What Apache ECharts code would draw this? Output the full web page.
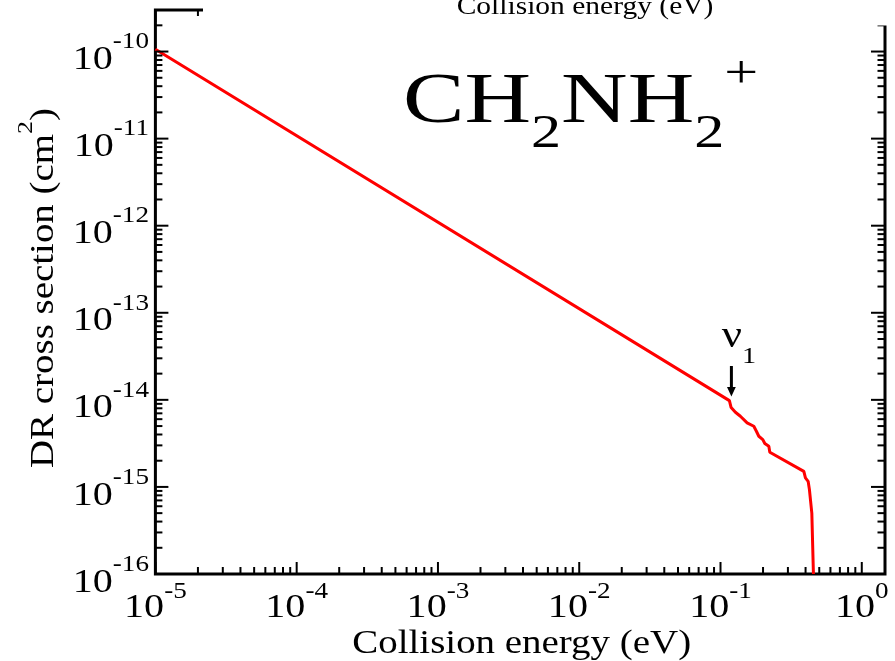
<!DOCTYPE html>
<html>
<head>
<meta charset="utf-8">
<script src="https://cdn.jsdelivr.net/npm/echarts@6/dist/echarts.min.js"></script>
<style>
  html, body { margin: 0; padding: 0; background: #fff; }
  #chart { width: 895px; height: 661px; }
</style>
</head>
<body>
<div id="chart"></div>
<script>
// Dissociative recombination cross section of CH2NH2+ versus collision energy (log-log).
const energy = [1e-5, 0.1156, 0.1189, 0.1275, 0.1383, 0.1543, 0.1721, 0.1795, 0.1867, 0.1993,
  0.2059, 0.2198, 0.2234, 0.3889, 0.3992, 0.4171, 0.4260, 0.4379, 0.4430, 0.4547, 0.4547];
const crossSection = [1.06e-10, 9.8e-15, 8.16e-15, 7.20e-15, 6.48e-15, 5.44e-15, 4.97e-15, 4.36e-15, 3.82e-15, 3.50e-15,
  3.15e-15, 2.93e-15, 2.50e-15, 1.51e-15, 1.27e-15, 1.16e-15, 9.31e-16, 9.31e-16, 5.0e-16, 4.79e-16, 1e-16];

const xRange = [1e-5, 1.46];
const yRange = [1e-16, 3e-10];
const xMajorTicks = [1e-5, 1e-4, 1e-3, 1e-2, 1e-1, 1e0];
const xTickExponents = ['-5', '-4', '-3', '-2', '-1', '0'];
const yMajorTicks = [1e-16, 1e-15, 1e-14, 1e-13, 1e-12, 1e-11, 1e-10];
const yTickExponents = ['-16', '-15', '-14', '-13', '-12', '-11', '-10'];
const minorMantissas = [2, 3, 4, 5, 6, 7, 8, 9];
const thresholdIndex = 1;            // first vibrational threshold, marked ν1

const xTitle = 'Collision energy (eV)';
const yTitle = 'DR cross section (cm';
const moleculeMain = ['CH', 'NH'];

function minorTicks(range) {
  const out = [];
  const k0 = Math.floor(Math.log10(range[0])), k1 = Math.ceil(Math.log10(range[1]));
  for (let k = k0; k <= k1; k++) {
    minorMantissas.forEach(m => {
      const v = m * Math.pow(10, k);
      if (v > range[0] && v < range[1]) out.push(v);
    });
  }
  return out;
}
const xMinorTicks = minorTicks(xRange);
const yMinorTicks = minorTicks(yRange);

const SERIF = '"Liberation Serif", "Times New Roman", serif';
const WIDE = 1.18;

function rt(size, padBottom, padLeft) {
  return { fontSize: size, fontFamily: SERIF, lineHeight: size, padding: [0, 0, padBottom || 0, padLeft || 0],
           verticalAlign: 'bottom', fill: '#000' };
}
const xLabelRich = { b: rt(34, 0), s: rt(23, 22) };
const yLabelRich = { b: rt(34, 0), s: rt(23, 23.5) };

const chart = echarts.init(document.getElementById('chart'));

function tickLine(x1, y1, x2, y2, w) {
  return { type: 'line', shape: { x1, y1, x2, y2 }, style: { stroke: '#000', lineWidth: w || 2 } };
}

const option = {
  animation: false,
  grid: {
    left: 155.4, right: 10, top: 10, bottom: 87,
    show: true, borderColor: '#000', borderWidth: 3, backgroundColor: 'transparent',
    outerBoundsMode: 'none'
  },
  xAxis: {
    type: 'log', logBase: 10, min: xRange[0], max: xRange[1],
    axisLine: { show: false }, axisTick: { show: false }, axisLabel: { show: false }, splitLine: { show: false }
  },
  yAxis: {
    type: 'log', logBase: 10, min: yRange[0], max: yRange[1],
    axisLine: { show: false }, axisTick: { show: false }, axisLabel: { show: false }, splitLine: { show: false }
  },
  series: [
    {
      name: 'DR cross section',
      type: 'line',
      data: energy.map((e, i) => [e, crossSection[i]]),
      showSymbol: false,
      clip: true,
      lineStyle: { color: '#ff0000', width: 3 },
      z: 3
    },
    {
      // major ticks and decade labels on the energy axis
      type: 'custom', silent: true, clip: false, z: 5,
      data: xMajorTicks.map(v => [v, yRange[0]]),
      renderItem(params, api) {
        const cs = params.coordSys;
        const px = api.coord([api.value(0), yRange[0]])[0];
        const bottom = cs.y + cs.height, top = cs.y;
        return { type: 'group', children: [
          tickLine(px, bottom, px, bottom - 12),
          tickLine(px, top, px, top + 12),
          { type: 'text', x: px, y: bottom + 51, scaleX: WIDE,
            style: { text: '{b|10}{s|' + xTickExponents[params.dataIndex] + '}', rich: xLabelRich,
                     align: 'center', verticalAlign: 'bottom', fill: '#000' } }
        ] };
      }
    },
    {
      // major ticks and decade labels on the cross-section axis
      type: 'custom', silent: true, clip: false, z: 5,
      data: yMajorTicks.map(v => [xRange[0], v]),
      renderItem(params, api) {
        const cs = params.coordSys;
        const py = api.coord([xRange[0], api.value(1)])[1];
        const left = cs.x, right = cs.x + cs.width;
        return { type: 'group', children: [
          tickLine(left, py, left + 13, py),
          tickLine(right, py, right - 14, py),
          { type: 'text', x: left - 6.4, y: py + 25.7, scaleX: WIDE,
            style: { text: '{b|10}{s|' + yTickExponents[params.dataIndex] + '}', rich: yLabelRich,
                     align: 'right', verticalAlign: 'bottom', fill: '#000' } }
        ] };
      }
    },
    {
      type: 'custom', silent: true, clip: false, z: 5,
      data: xMinorTicks.map(v => [v, yRange[0]]),
      renderItem(params, api) {
        const cs = params.coordSys;
        const px = api.coord([api.value(0), yRange[0]])[0];
        const bottom = cs.y + cs.height, top = cs.y;
        return { type: 'group', children: [
          tickLine(px, bottom, px, bottom - 7),
          tickLine(px, top, px, top + 6)
        ] };
      }
    },
    {
      type: 'custom', silent: true, clip: false, z: 5,
      data: yMinorTicks.map(v => [xRange[0], v]),
      renderItem(params, api) {
        const cs = params.coordSys;
        const py = api.coord([xRange[0], api.value(1)])[1];
        const left = cs.x, right = cs.x + cs.width;
        return { type: 'group', children: [
          tickLine(left, py, left + 7, py),
          tickLine(right, py, right - 7.5, py)
        ] };
      }
    },
    {
      // arrow and ν1 label at the first vibrational threshold
      type: 'custom', silent: true, clip: false, z: 6,
      data: [[energy[thresholdIndex], crossSection[thresholdIndex]]],
      renderItem(params, api) {
        const p = api.coord([api.value(0), api.value(1)]);
        const tx = p[0] + 2, ty = p[1] - 4;
        return { type: 'group', children: [
          tickLine(tx, ty - 30.6, tx, ty - 8, 3),
          { type: 'polygon', shape: { points: [[tx - 4.4, ty - 9.5], [tx + 4.4, ty - 9.5], [tx, ty]] },
            style: { fill: '#000' } },
          { type: 'text', x: tx - 9.7, y: ty - 28, scaleX: WIDE,
            style: { text: '{n|ν}{s|1}', rich: { n: rt(38, 13), s: rt(24, 0) },
                     align: 'left', verticalAlign: 'bottom', fill: '#000' } }
        ] };
      }
    }
  ],
  graphic: [
    { type: 'rect', silent: true, z: 100,
      shape: { x: 203, y: 0, width: 692, height: 25.5 }, style: { fill: '#fff' } },
    { type: 'text', silent: true, z: 101, x: 585, y: 7.6, scaleX: WIDE,
      style: { text: xTitle, fontSize: 25, fontFamily: SERIF, lineHeight: 25, fill: '#000',
               align: 'center', verticalAlign: 'middle' } },
    { type: 'text', silent: true, z: 101, x: 521.7, y: 643.9, scaleX: WIDE,
      style: { text: xTitle, fontSize: 33, fontFamily: SERIF, lineHeight: 33, fill: '#000',
               align: 'center', verticalAlign: 'middle' } },
    { type: 'text', silent: true, z: 101, x: 60.4, y: 288, rotation: Math.PI / 2, scaleX: WIDE,
      style: { text: '{a|' + yTitle + '}{s|2}{a|)}', rich: { a: rt(33, 0), s: rt(22, 23.5) },
               align: 'center', verticalAlign: 'bottom', fill: '#000' } },
    { type: 'text', silent: true, z: 101, x: 403, y: 157.7, scaleX: 1.28,
      style: { text: '{m|' + moleculeMain[0] + '}{b|2}{m|' + moleculeMain[1] + '}{b|2}{p|+}',
               rich: { m: rt(72, 19), b: rt(47, 0), p: rt(47, 59.6) },
               align: 'left', verticalAlign: 'bottom', fill: '#000' } }
  ]
};

chart.setOption(option);
</script>
</body>
</html>
